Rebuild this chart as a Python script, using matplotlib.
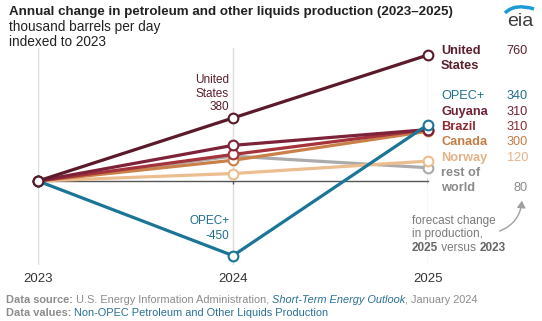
import matplotlib
matplotlib.use("Agg")
import matplotlib.pyplot as plt
from matplotlib.patches import FancyArrowPatch, PathPatch
from matplotlib.path import Path

plt.rcParams['font.family'] = ['Liberation Sans', 'DejaVu Sans']

# ---- data ----
years = [2023, 2024, 2025]
year_labels = ["2023", "2024", "2025"]
us = [0, 380, 760]
opec = [0, -450, 340]
guyana = [0, 215, 310]
brazil = [0, 160, 310]
canada = [0, 125, 300]
norway = [0, 45, 120]
rest_of_world = [0, 150, 80]

series_names = ["rest of world", "Norway", "Canada", "Brazil", "Guyana", "OPEC+", "United States"]
series_values = [rest_of_world, norway, canada, brazil, guyana, opec, us]
line_colors = ["#ababab", "#ebbd8f", "#c98149", "#a5333b", "#7d2239", "#1b7597", "#5a1a2a"]
label_colors = ["#8a8a8a", "#e4b286", "#c27c47", "#8f2a33", "#6f2234", "#1f6f8f", "#5a1f2d"]

W, H = 542, 321
fig = plt.figure(figsize=(W / 100, H / 100), dpi=100)

def fx(x):
    return x / W

def fy(y):
    return 1 - y / H

# axes geometry (pixels)
x0, x1 = 38, 428
ytop, ybot, yzero = 45, 265, 181
per_px = 6.03
ax = fig.add_axes([fx(x0), fy(ybot), (x1 - x0) / W, (ybot - ytop) / H])
ax.set_xlim(years[0], years[-1])
ax.set_ylim(-(ybot - yzero) * per_px, (yzero - ytop) * per_px)
for s in ax.spines.values():
    s.set_visible(False)
ax.set_yticks([])
ax.set_xticks(years)
ax.set_xticklabels(year_labels, fontsize=9.5, color="#333333")
ax.tick_params(axis='x', length=0, pad=6)
ax.patch.set_alpha(0)

# vertical gridlines
for yr in years:
    ax.axvline(yr, ymin=0, ymax=0.985, color="#dddddd", lw=1, zorder=0)
# zero line and small ticks
ax.plot([years[0], years[-1]], [0, 0], color="#555555", lw=1, zorder=1, clip_on=False)
ax.vlines(years[1], -20, 0, color="#555555", lw=1, zorder=1)
ax.vlines(years[2], -18, 18, color="#555555", lw=1, zorder=1)

for i, (name, vals, c) in enumerate(zip(series_names, series_values, line_colors)):
    ax.plot(years, vals, color=c, lw=2.3, marker='o', markersize=7,
            markerfacecolor='white', markeredgecolor=c, markeredgewidth=1.5,
            zorder=2 + i, clip_on=False, solid_capstyle='round')

# ---- titles ----
fig.text(fx(9), fy(12), "Annual change in petroleum and other liquids production (2023\u20132025)",
         fontsize=9.6, fontweight='bold', color="#222222", ha='left', va='center')
fig.text(fx(9), fy(27), "thousand barrels per day", fontsize=9.8, color="#222222", ha='left', va='center')
fig.text(fx(9), fy(42), "indexed to 2023", fontsize=9.8, color="#222222", ha='left', va='center')

# ---- right labels ----
lab_fs = 9.2
name_x, val_x = 441, 528
right_labels = [
    ("United", "760", 51, label_colors[6], 'bold'),
    ("States", "", 66, label_colors[6], 'bold'),
    ("OPEC+", "340", 96, label_colors[5], 'normal'),
    ("Guyana", "310", 112, label_colors[4], 'bold'),
    ("Brazil", "310", 127, label_colors[3], 'bold'),
    ("Canada", "300", 142, label_colors[2], 'bold'),
    ("Norway", "120", 158, label_colors[1], 'bold'),
    ("rest of", "", 173, label_colors[0], 'bold'),
    ("world", "80", 188, label_colors[0], 'bold'),
]
for nm, val, y, c, w in right_labels:
    fig.text(fx(name_x), fy(y), nm, fontsize=lab_fs, fontweight=w, color=c, ha='left', va='center')
    if val:
        fig.text(fx(val_x), fy(y), val, fontsize=lab_fs, color=c, ha='right', va='center')

# ---- in-chart annotations ----
us_c = label_colors[6]
fig.text(fx(229), fy(80), "United", fontsize=8.5, color=us_c, ha='right', va='center')
fig.text(fx(229), fy(94), "States", fontsize=8.5, color=us_c, ha='right', va='center')
fig.text(fx(229), fy(107), "380", fontsize=8.5, color=us_c, ha='right', va='center')
op_c = label_colors[5]
fig.text(fx(230), fy(221), "OPEC+", fontsize=8.5, color=op_c, ha='right', va='center')
fig.text(fx(229), fy(236), "-450", fontsize=8.5, color=op_c, ha='right', va='center')

# ---- forecast note ----
gray = "#7a7a7a"
fig.text(fx(412), fy(221), "forecast change", fontsize=8.5, color=gray, ha='left', va='center')
fig.text(fx(412), fy(234), "in production,", fontsize=8.5, color=gray, ha='left', va='center')

fig.canvas.draw()
renderer = fig.canvas.get_renderer()

def chain(x_px, y_px, parts, fs):
    x = x_px
    for txt, kw in parts:
        t = fig.text(fx(x), fy(y_px), txt, fontsize=fs, ha='left', va='center', **kw)
        bb = t.get_window_extent(renderer=renderer)
        x += bb.width
    return x

chain(412, 248, [("2025", dict(color="#666666", fontweight='bold')),
                 (" versus ", dict(color=gray)),
                 ("2023", dict(color="#666666", fontweight='bold'))], 8.5)

arrow = FancyArrowPatch((fx(497), fy(232)), (fx(522), fy(198)), transform=fig.transFigure,
                        connectionstyle="arc3,rad=0.35", arrowstyle="-|>,head_length=4,head_width=2.5",
                        color="#a0a0a0", lw=1)
fig.add_artist(arrow)

# ---- footer ----
fgray = "#8c8c8c"
teal = "#2a7196"
ffs = 7.9
chain(6, 300, [("Data source: ", dict(color=fgray, fontweight='bold')),
               ("U.S. Energy Information Administration, ", dict(color=fgray)),
               ("Short-Term Energy Outlook", dict(color=teal, fontstyle='italic')),
               (", January 2024", dict(color=fgray))], ffs)
chain(6, 313, [("Data values: ", dict(color=fgray, fontweight='bold')),
               ("Non-OPEC Petroleum and Other Liquids Production", dict(color=teal))], ffs)

# ---- eia logo ----
fig.text(fx(520), fy(21), "eia", fontsize=14, color="#3d3d3d", ha='center', va='center')
verts = [(fx(505), fy(13)), (fx(515), fy(3)), (fx(534), fy(9))]
swoosh = PathPatch(Path(verts, [Path.MOVETO, Path.CURVE3, Path.CURVE3]), transform=fig.transFigure,
                   facecolor='none', edgecolor="#1e9bd7", lw=2.5)
fig.add_artist(swoosh)

fig.savefig("out.png", dpi=100)
